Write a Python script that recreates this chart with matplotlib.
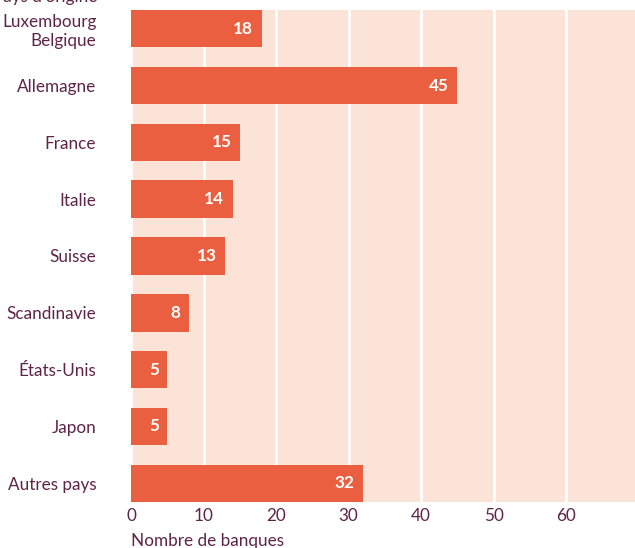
import matplotlib.pyplot as plt

# Banques par pays d'origine
pays = ['Luxembourg\nBelgique', 'Allemagne', 'France', 'Italie', 'Suisse',
        'Scandinavie', 'États-Unis', 'Japon', 'Autres pays']
banques = [18, 45, 15, 14, 13, 8, 5, 5, 32]
xticks = [0, 10, 20, 30, 40, 50, 60]

bar_col = '#E95F40'
bg_col = '#FCE3D8'
txt_col = '#5E2447'

plt.rcParams['font.family'] = ['Lato', 'DejaVu Sans']
fs = 12.3

fig = plt.figure(figsize=(6.35, 5.48), dpi=100)
ax = fig.add_axes([131/635, 46/548, 504/635, 492/548])
ax.set_facecolor(bg_col)

h = 0.66
pos = list(range(len(pays)))
ax.barh(pos, banques, height=h, color=bar_col, zorder=3)
for y, v in zip(pos, banques):
    ax.annotate(str(v), (v, y), xytext=(-6, 0), textcoords='offset points',
                ha='right', va='center', color='white', fontsize=fs,
                fontweight='bold', zorder=4)

ax.set_xlim(0, 69.5)
ax.set_ylim(len(pays) - 1 + h/2, -h/2)
ax.set_xticks(xticks)
ax.set_yticks(pos)
ax.set_yticklabels(pays, ha='right')
ax.grid(axis='x', color='white', linewidth=2, zorder=1)
ax.set_axisbelow(True)
for s in ax.spines.values():
    s.set_visible(False)
ax.tick_params(axis='both', length=0, labelsize=fs, labelcolor=txt_col)
ax.tick_params(axis='y', pad=25)
ax.tick_params(axis='x', pad=4)
ax.set_xlabel('Nombre de banques', fontsize=fs, color=txt_col, loc='left', labelpad=7)

# titre de l'axe, coupé en haut comme dans l'original
fig.text(97/635, 1 - 2/548, "Pays d'origine", ha='right', va='baseline',
         fontsize=fs, color=txt_col)

fig.savefig('out.png', dpi=100)
